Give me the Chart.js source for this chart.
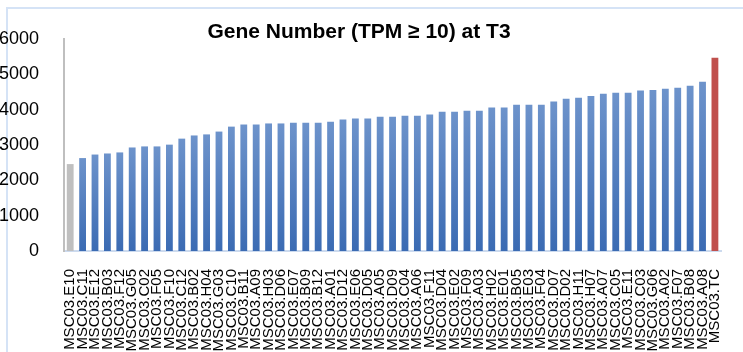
<!DOCTYPE html>
<html>
<head>
<meta charset="utf-8">
<script src="https://cdn.jsdelivr.net/npm/chart.js@4"></script>
<style>
  body { margin: 0; background: #fff; }
  #wrap { width: 743px; height: 352px; }
</style>
</head>
<body>
<div id="wrap"><canvas id="geneChart" width="743" height="352"></canvas></div>
<script>
// sample names (sorted by gene count), TC = control
const samples = [
  'MSC03.E10', 'MSC03.C11', 'MSC03.E12', 'MSC03.B03', 'MSC03.F12', 'MSC03.G05',
  'MSC03.C02', 'MSC03.F05', 'MSC03.F10', 'MSC03.C12', 'MSC03.B02', 'MSC03.H04',
  'MSC03.G03', 'MSC03.C10', 'MSC03.B11', 'MSC03.A09', 'MSC03.H03', 'MSC03.D06',
  'MSC03.E07', 'MSC03.B09', 'MSC03.B12', 'MSC03.A01', 'MSC03.D12', 'MSC03.E06',
  'MSC03.D05', 'MSC03.A05', 'MSC03.D09', 'MSC03.C04', 'MSC03.A06', 'MSC03.F11',
  'MSC03.D04', 'MSC03.E02', 'MSC03.F09', 'MSC03.A03', 'MSC03.H02', 'MSC03.E01',
  'MSC03.B05', 'MSC03.E03', 'MSC03.F04', 'MSC03.D07', 'MSC03.D02', 'MSC03.H11',
  'MSC03.H07', 'MSC03.A07', 'MSC03.C05', 'MSC03.E11', 'MSC03.C03', 'MSC03.G06',
  'MSC03.A02', 'MSC03.F07', 'MSC03.B08', 'MSC03.A08', 'MSC03.TC'
];

// genes with TPM >= 10
const geneCounts = [
  2460, 2630, 2730, 2760, 2790, 2930, 2960, 2960, 3010, 3180, 3270, 3300,
  3380, 3520, 3580, 3580, 3610, 3610, 3630, 3630, 3630, 3660, 3720, 3750,
  3750, 3800, 3800, 3830, 3830, 3860, 3940, 3940, 3970, 3970, 4060, 4060,
  4140, 4140, 4140, 4230, 4310, 4340, 4390, 4450, 4480, 4480, 4540, 4560,
  4590, 4620, 4680, 4790, 5470
];

const yTicks = [0, 1000, 2000, 3000, 4000, 5000, 6000];
const chartTitle = 'Gene Number (TPM \u2265 10) at T3';

const FONT = "'Liberation Sans', Arial, sans-serif";

// bars fade from light blue at the top to darker blue at the base
function barColor(ctx) {
  const i = ctx.dataIndex;
  if (i === 0) return '#BFBFBF';
  if (i === samples.length - 1) return '#C0504D';
  const chart = ctx.chart;
  const y = chart.scales && chart.scales.y;
  if (!chart.chartArea || !y) return '#4F81BD';
  const top = y.getPixelForValue(ctx.raw);
  const base = y.getPixelForValue(0);
  const g = chart.ctx.createLinearGradient(0, top, 0, base);
  g.addColorStop(0, '#6D93CB');
  g.addColorStop(1, '#3B6BB3');
  return g;
}

// light blue frame round the whole chart
const framePlugin = {
  id: 'frame',
  beforeDraw(chart) {
    const c = chart.ctx;
    c.save();
    c.strokeStyle = '#D5E3F6';
    c.lineWidth = 2;
    c.strokeRect(7, 8, 800, 400);
    c.restore();
  }
};

// title sits inside the plot area, above the bars
const titlePlugin = {
  id: 'insideTitle',
  afterDraw(chart) {
    const c = chart.ctx;
    c.save();
    c.font = 'bold 21px ' + FONT;
    c.fillStyle = '#000';
    c.textAlign = 'center';
    c.textBaseline = 'middle';
    c.fillText(chartTitle, 359, 32);
    c.restore();
  }
};

new Chart(document.getElementById('geneChart'), {
  type: 'bar',
  data: {
    labels: samples,
    datasets: [{
      label: 'Gene number',
      data: geneCounts,
      backgroundColor: barColor,
      borderWidth: 0,
      barPercentage: 0.55,
      categoryPercentage: 1.0
    }]
  },
  options: {
    responsive: false,
    animation: false,
    layout: { padding: { left: 0, right: 8, top: 39, bottom: 0 } },
    plugins: {
      legend: { display: false },
      title: { display: false },
      tooltip: { enabled: false }
    },
    scales: {
      x: {
        grid: { display: false },
        border: { display: true, color: '#CCDAEE', width: 2 },
        ticks: {
          autoSkip: false,
          maxRotation: 90,
          minRotation: 90,
          padding: 10,
          color: '#000',
          font: { family: FONT, size: 15 }
        },
        afterFit(scale) { scale.height = 101; }
      },
      y: {
        min: 0,
        max: 6000,
        grid: { display: false },
        border: { display: true, color: '#BFBFBF', width: 2 },
        afterBuildTicks(scale) {
          scale.ticks = yTicks.map(v => ({ value: v }));
        },
        ticks: {
          padding: 17,
          color: '#000',
          font: { family: FONT, size: 18 },
          callback: v => String(v)
        },
        afterFit(scale) { scale.width = 64; }
      }
    }
  },
  plugins: [framePlugin, titlePlugin]
});
</script>
</body>
</html>
